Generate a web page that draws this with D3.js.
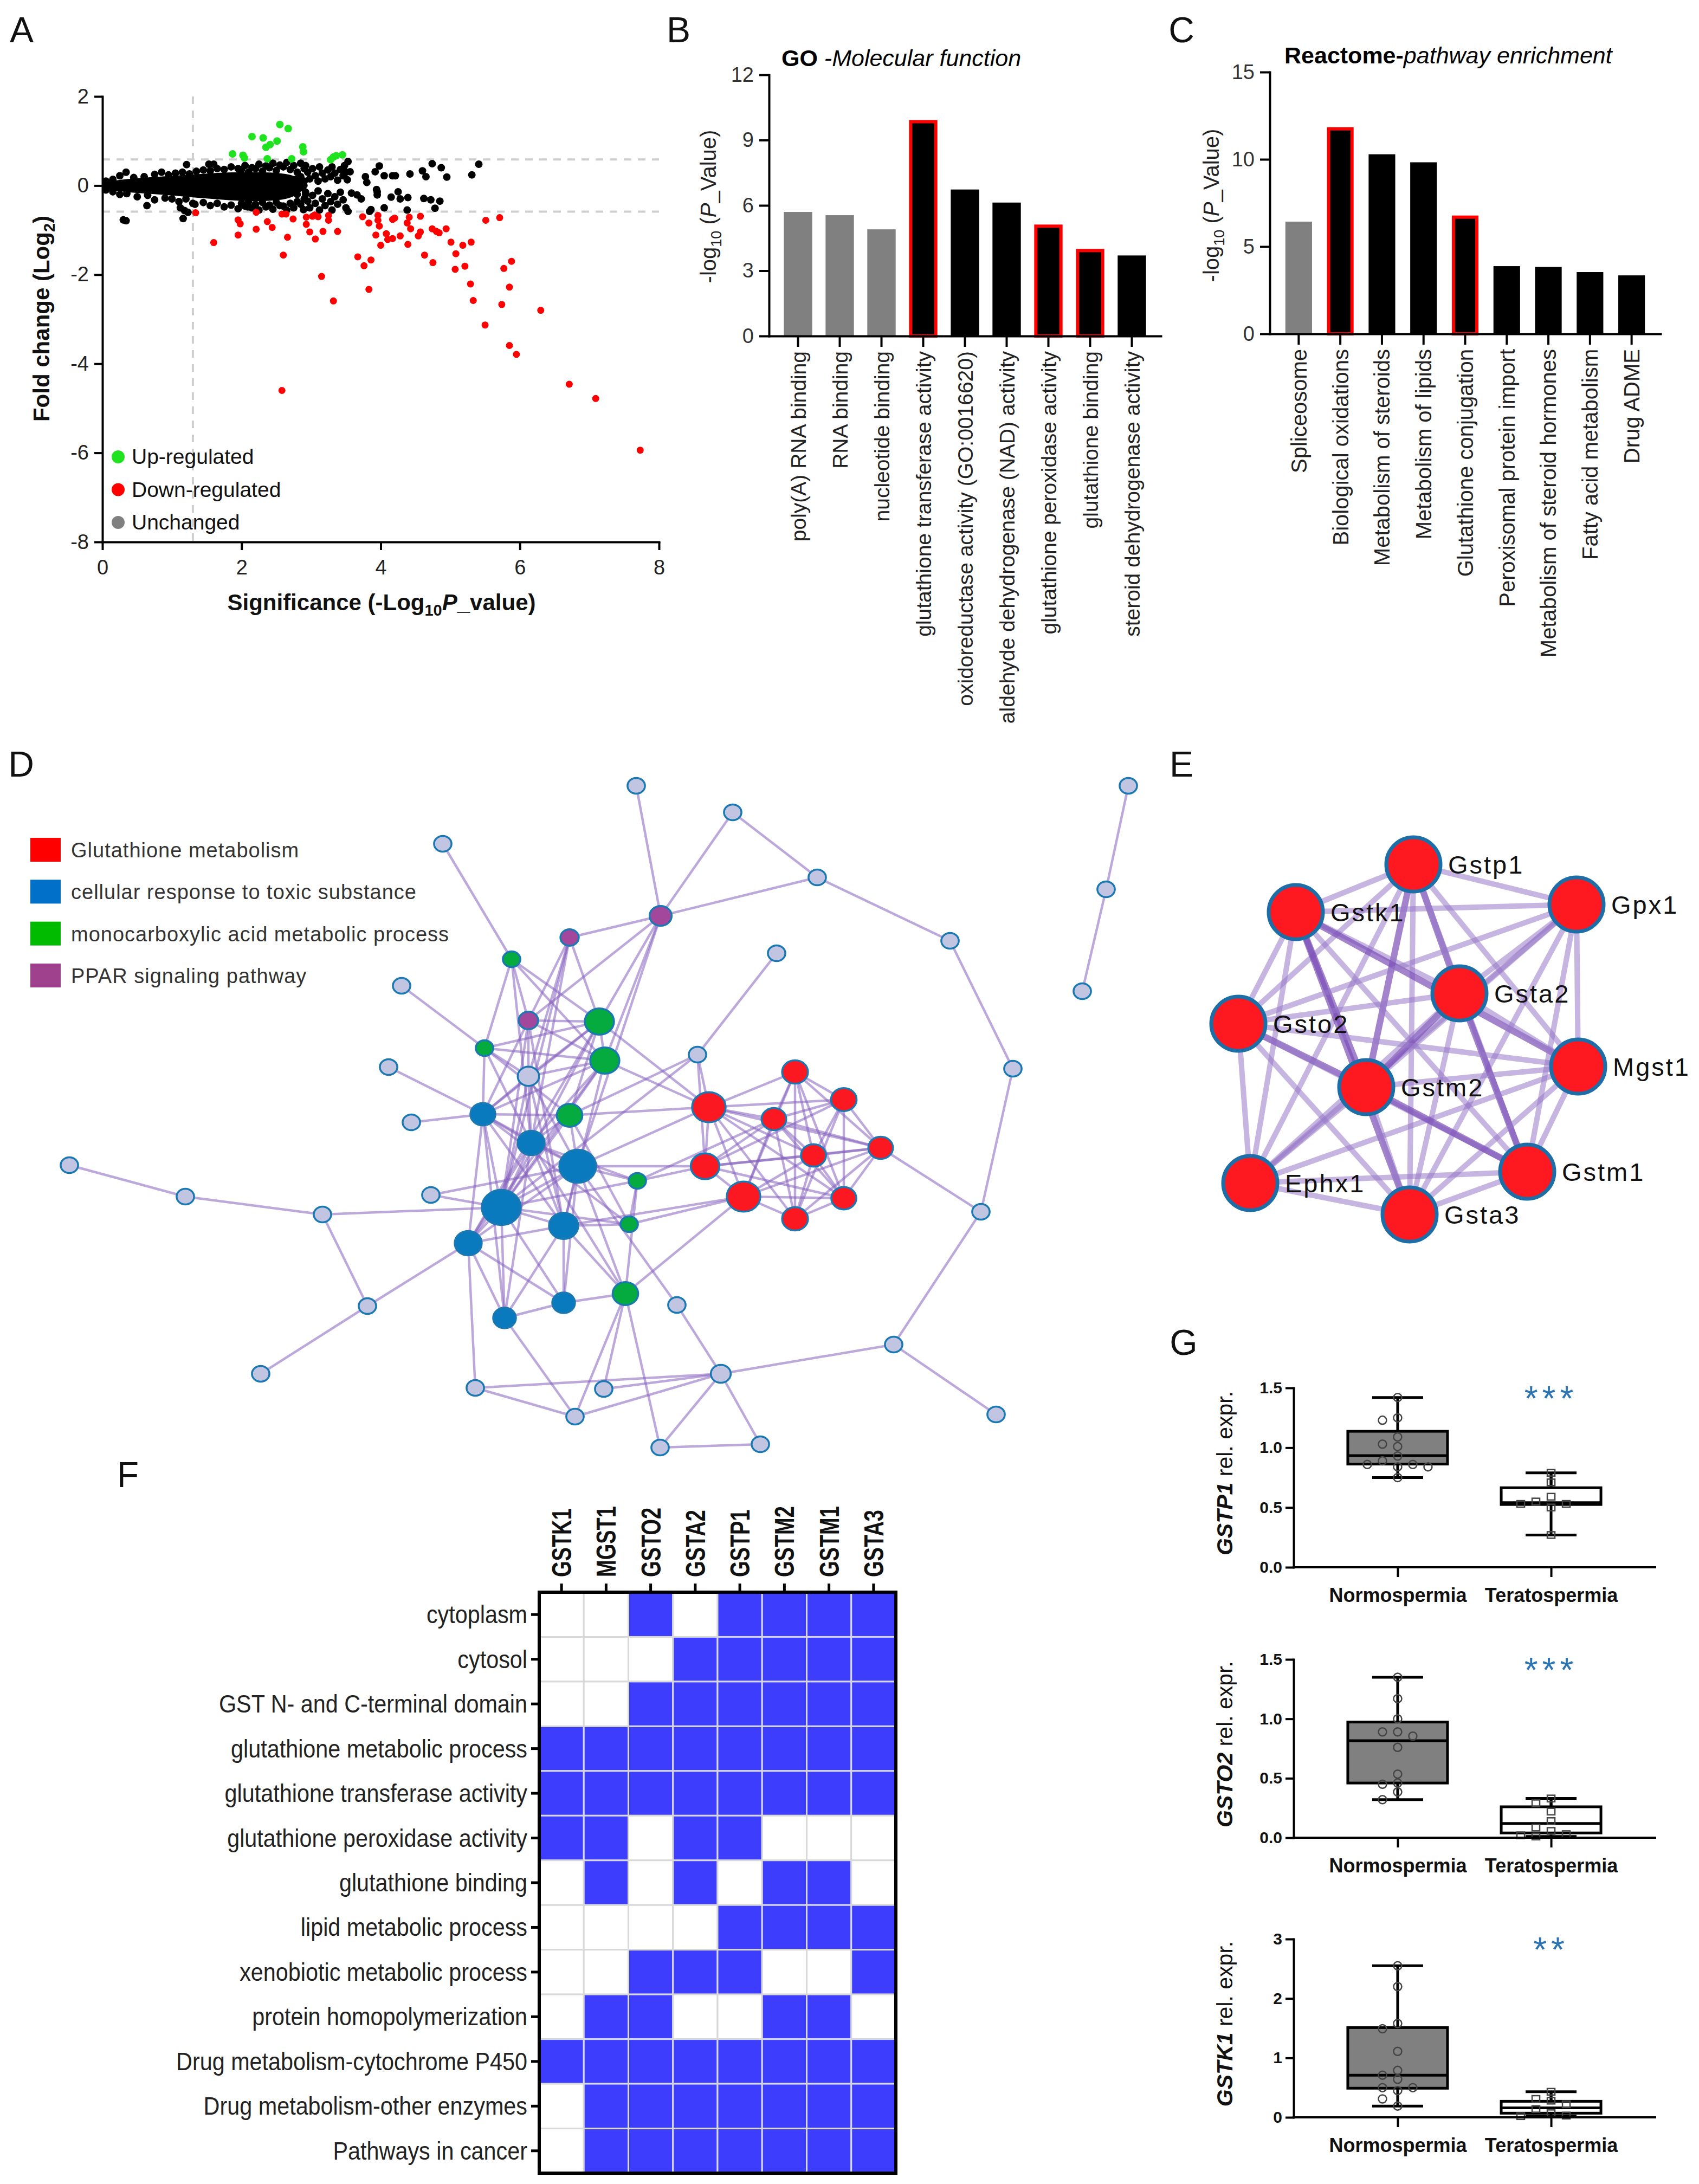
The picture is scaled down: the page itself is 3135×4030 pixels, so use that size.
<!DOCTYPE html>
<html>
<head>
<meta charset="utf-8">
<script src="https://cdn.jsdelivr.net/npm/d3@7"></script>
<style>
  body { margin: 0; background: #fff; }
  svg { display: block; }
  text { font-family: "Liberation Sans", Arial, sans-serif; }
</style>
</head>
<body>
<svg id="fig" width="3135" height="4030"></svg>
<script>
// ---------- A: volcano plot ----------
const coreX  = [0, 0.1, 0.3, 0.6, 0.9, 1.2, 1.5, 1.8, 2.1, 2.4, 2.7, 2.85, 2.95];
const coreHi = [0.07, 0.1, 0.14, 0.18, 0.21, 0.24, 0.27, 0.3, 0.3, 0.3, 0.26, 0.15, 0.02];
const coreLo = [-0.07, -0.1, -0.14, -0.18, -0.21, -0.25, -0.29, -0.33, -0.35, -0.35, -0.3, -0.15, -0.02];

const flatPts = [
  [0.05,0.1],[0.15,0.14],[0.25,0.22],[0.34,0.3],[0.45,0.18],[0.6,0.2],[0.75,0.25],[0.85,0.3],[0.95,0.24],
  [1.05,0.28],[1.15,0.3],[1.25,0.26],[1.35,0.32],[1.45,0.35],[1.55,0.33],[1.65,0.38],[1.75,0.36],[1.85,0.42],
  [1.95,0.38],[2.05,0.45],[2.15,0.4],[2.25,0.48],[2.35,0.44],[2.45,0.5],[2.55,0.46],[2.65,0.52],[2.75,0.45],[2.85,0.5],
  [0.05,-0.1],[0.15,-0.14],[0.25,-0.2],[0.35,-0.18],[0.5,-0.25],[0.65,-0.22],[0.75,-0.32],[0.9,-0.28],[1.0,-0.3],
  [1.1,-0.36],[1.2,-0.3],[1.3,-0.4],[1.45,-0.38],[1.55,-0.45],[1.65,-0.4],[1.75,-0.48],[1.85,-0.44],[1.95,-0.52],
  [2.05,-0.46],[2.15,-0.5],[2.25,-0.55],[2.35,-0.48],[2.45,-0.53],[2.55,-0.45],[2.65,-0.55],[2.75,-0.5],[2.85,-0.42],
  [2.0,0.36],[2.1,0.3],[2.2,0.38],[2.3,0.32],[2.4,0.4],[2.5,0.34],[2.6,0.42],[2.7,0.36],[2.8,0.3],[2.9,0.38],
  [2.0,-0.4],[2.1,-0.36],[2.2,-0.42],[2.3,-0.38],[2.4,-0.44],[2.5,-0.38],[2.6,-0.46],[2.7,-0.4],[2.8,-0.36],[2.9,-0.3],
  [2.85,0.2],[2.9,0.1],[2.88,-0.05],[2.92,-0.2],[2.78,0.14],[2.8,-0.2],
  [0.3,-0.77],[0.34,-0.79],[0.64,-0.45],[1.21,0.47],[1.16,-0.74],[1.12,-0.5],[1.18,-0.56],[1.23,-0.6],[1.33,-0.42],
  [1.53,0.48],[1.6,0.48],[2.09,-0.48],[2.89,-0.54],
  [2.92,0.45],[2.95,0.3],[2.98,0.15],[3.02,0.38],[3.06,0.22],[3.1,0.1],[3.12,0.42],[3.16,0.28],[3.2,0.15],
  [3.24,0.35],[3.28,0.2],[3.3,0.42],[3.34,0.28],[3.38,0.12],[3.42,0.36],[3.46,0.22],[3.5,0.3],[3.52,0.13],
  [3.53,0.54],[3.56,0.31],[3.48,0.45],
  [2.92,-0.15],[2.95,-0.35],[2.98,-0.5],[3.02,-0.22],[3.06,-0.4],[3.1,-0.12],[3.12,-0.55],[3.16,-0.3],[3.2,-0.45],
  [3.24,-0.18],[3.28,-0.36],[3.3,-0.55],[3.34,-0.25],[3.38,-0.42],[3.42,-0.15],[3.46,-0.32],[3.5,-0.5],[3.53,-0.58],
  [3.58,-0.17],[3.66,-0.21],[3.72,-0.3],
  [3.78,0.2],[3.8,0.07],[3.92,0.31],[3.98,0.44],[4.05,0.22],[4.17,0.22],[4.21,0.22],[4.42,0.26],[4.6,0.33],
  [4.65,0.2],[4.74,0.49],[4.87,0.4],[4.95,0.19],[5.31,0.24],[5.41,0.48],
  [3.95,-0.14],[3.95,-0.21],[3.94,-0.09],[4.15,-0.26],[4.25,-0.14],[4.28,-0.3],[4.39,-0.27],[4.62,-0.29],
  [4.72,-0.32],[4.85,-0.35],[4.78,-0.51],[4.38,-0.55],[4.05,-0.5],[3.86,-0.54],[3.84,-0.58]
];
const upPts = [
  [1.87,0.71],[2.02,0.68],[2.04,0.62],[2.15,1.1],[2.31,1.07],[2.35,0.86],[2.41,0.92],[2.51,1.0],[2.55,1.37],
  [2.67,1.28],[2.37,0.6],[2.72,0.6],[2.88,0.87],[2.89,0.76],[3.28,0.58],[3.32,0.64],[3.36,0.67],[3.45,0.69]
];
const downPts = [
  [1.34,-0.61],[1.6,-1.28],[1.95,-0.77],[1.98,-0.86],[1.95,-1.11],[2.21,-0.6],[2.21,-0.98],[2.37,-0.81],[2.44,-0.94],
  [2.6,-1.56],[2.58,-0.64],[2.64,-0.64],[2.74,-0.75],[2.66,-1.16],[2.58,-4.6],
  [2.93,-0.87],[2.93,-0.71],[3.02,-0.69],[2.98,-1.04],[3.06,-1.2],[3.17,-1.03],[3.25,-0.78],[3.25,-0.67],[3.38,-1.03],
  [3.15,-2.04],[3.32,-2.59],[3.67,-1.6],[3.76,-1.8],[3.86,-1.67],[3.83,-2.33],[3.74,-0.7],[3.83,-0.84],[3.96,-0.67],
  [3.96,-0.78],[3.98,-0.91],[3.93,-1.11],[4.0,-1.34],[4.08,-1.08],[4.1,-1.21],[4.17,-1.19],[4.17,-0.76],[4.2,-0.73],
  [4.28,-1.13],[4.39,-1.32],[4.38,-0.84],[4.41,-0.71],[4.43,-0.97],[4.54,-1.13],[4.57,-1.04],[4.57,-0.69],[4.63,-1.56],
  [4.75,-1.73],[4.74,-0.97],[4.8,-1.03],[4.84,-1.06],[4.94,-0.97],[5.01,-1.27],[5.08,-1.53],[5.18,-1.34],[5.3,-1.27],
  [5.07,-1.88],[5.21,-1.81],[5.29,-2.21],[5.33,-2.58],[5.5,-3.13],[5.51,-0.78],[5.71,-0.72],[5.88,-1.7],[5.77,-1.86],
  [5.85,-2.28],[5.74,-2.67],[5.85,-3.59],[5.95,-3.79],[6.3,-2.8],[6.71,-4.46],[7.09,-4.78],[7.73,-5.94],
  [3.05,-0.66],[3.1,-0.7]
];
const volcanoLegend = ["Up-regulated", "Down-regulated", "Unchanged"];

// ---------- B / C: enrichment bars ----------
const goTerms = ["poly(A) RNA binding", "RNA binding", "nucleotide binding", "glutathione transferase activity",
  "oxidoreductase activity (GO:0016620)", "aldehyde dehydrogenase (NAD) activity", "glutathione peroxidase activity",
  "glutathione binding", "steroid dehydrogenase activity"];
const goValues = [5.7, 5.55, 4.9, 9.92, 6.73, 6.13, 5.12, 4.0, 3.7];
const goKind = ["other", "other", "other", "gst", "main", "main", "gst", "gst", "main"];

const reactTerms = ["Spliceosome", "Biological oxidations", "Metabolism of steroids", "Metabolism of lipids",
  "Glutathione conjugation", "Peroxisomal protein import", "Metabolism of steroid hormones",
  "Fatty acid metabolism", "Drug ADME"];
const reactValues = [6.43, 11.84, 10.29, 9.83, 6.78, 3.88, 3.83, 3.54, 3.35];
const reactKind = ["other", "gst", "main", "main", "gst", "main", "main", "main", "main"];

// ---------- D: enrichment network (layout units) ----------
const netGroups = ["Glutathione metabolism", "cellular response to toxic substance",
  "monocarboxylic acid metabolic process", "PPAR signaling pathway"];
const netNodes = [
  ["a1",81.7,17.7,2,"none"],["a2",117.4,7.0,2,"none"],["a3",135.2,11.9,2,"none"],["a4",150.8,23.9,2,"none"],
  ["a5",175.3,35.6,2,"none"],["a6",186.9,59.2,2,"none"],["a7",181.0,85.6,2,"none"],["a8",164.9,110.1,2,"none"],
  ["a9",133.0,115.5,2.6,"none"],["a10",183.8,123.0,2,"none"],["a11",111.4,118.3,2,"none"],["a12",106.1,123.4,2,"none"],
  ["a13",121.8,129.1,2,"none"],["a14",140.3,128.5,2,"none"],["a15",124.9,102.8,2,"none"],["a16",208.2,7.0,2,"none"],
  ["a17",204.1,26.1,2,"none"],["a18",199.7,44.9,2,"none"],["a19",143.3,37.9,2,"none"],["a20",128.7,56.6,2,"none"],
  ["a21",12.8,77.0,2,"none"],["a22",34.2,82.8,2,"none"],["a23",59.5,86.1,2,"none"],["a24",67.8,103.0,2,"none"],
  ["a25",48.1,115.5,2,"none"],["a26",74.1,43.9,2,"none"],["a27",71.7,58.9,2,"none"],["a28",75.9,69.1,2,"none"],
  ["a29",79.5,82.5,2,"none"],["a30",87.7,118.1,2,"none"],["a31",97.5,60.6,3,"none"],
  ["g1",94.4,39.0,2,"mono"],["g2",89.4,55.4,2,"mono"],["g3",110.6,50.5,5.6,"mono"],["g4",111.6,57.7,5.6,"mono"],
  ["g5",105.1,67.8,4.3,"mono"],["g6",117.6,79.9,2,"mono"],["g7",116.1,87.9,2,"mono"],["g8",115.4,100.7,4.3,"mono"],
  ["p1",105.1,35.0,2.2,"ppar"],["p2",97.5,50.3,2.5,"ppar"],["p3",121.9,31.0,3.2,"ppar"],
  ["b1",89.1,67.6,4.1,"toxic"],["b2",98.0,72.9,4.8,"toxic"],["b3",106.6,77.2,8.9,"toxic"],["b4",92.5,84.8,10,"toxic"],
  ["b5",104.0,88.2,5.6,"toxic"],["b6",86.4,91.4,4.8,"toxic"],["b7",93.1,105.2,3.4,"toxic"],["b8",104.0,102.4,3.4,"toxic"],
  ["r1",146.7,59.8,4.4,"gsh"],["r2",130.8,66.3,7.4,"gsh"],["r3",155.7,64.9,4.3,"gsh"],["r4",142.8,68.5,4.0,"gsh"],
  ["r5",162.5,73.8,4.0,"gsh"],["r6",150.1,75.2,4.1,"gsh"],["r7",130.1,77.2,5.4,"gsh"],["r8",137.2,82.8,7.4,"gsh"],
  ["r9",155.7,83.1,4.1,"gsh"],["r10",146.7,86.9,4.4,"gsh"]
];
const netEdges = [
  ["a1","g1"],["a2","p3"],["a3","p3"],["a3","a4"],["a4","p3"],["a4","a5"],["a5","a6"],["a6","a7"],["a7","r5"],
  ["a7","a8"],["a8","a9"],["a8","a10"],["a16","a17"],["a17","a18"],["a19","a20"],["a20","r2"],["a20","r7"],
  ["a20","g5"],["a20","b4"],["a21","a22"],["a22","a23"],["a23","b4"],["a23","a24"],["a24","a25"],["a24","b6"],
  ["a26","g2"],["a27","b1"],["a28","b1"],["a29","b4"],["a29","b3"],["a30","a9"],["a30","a12"],["a30","b6"],
  ["a9","a11"],["a9","a12"],["a9","a13"],["a9","a14"],["a9","a15"],["a13","a14"],["a11","g8"],["a12","g8"],
  ["a13","g8"],["a12","b7"],["a15","b3"],["p3","p1"],["p3","p2"],["p3","g3"],["p3","g4"],["p3","b3"],
  ["g1","g2"],["g1","p2"],["g1","g3"],["g1","g4"],["g1","b2"],
  ["p1","p2"],["p1","a31"],["p1","g3"],["p1","b4"],["p1","b2"],
  ["p2","g3"],["p2","g4"],["p2","a31"],["p2","b1"],["p2","b4"],["p2","b5"],
  ["g2","g3"],["g2","g4"],["g2","a31"],["g2","b2"],["g2","g5"],["g2","b1"],
  ["a31","g3"],["a31","g4"],["a31","b1"],["a31","b2"],["a31","b3"],["a31","b5"],["a31","b4"],
  ["g3","g4"],["g3","b4"],["g3","g5"],["g3","b1"],["g3","r2"],["g3","b6"],
  ["g4","r2"],["g4","b4"],["g4","b5"],["g4","b1"],["g4","b2"],["g4","b6"],
  ["g5","b1"],["g5","b3"],["g5","b4"],["g5","b2"],["g5","g7"],["g5","r2"],
  ["b1","b2"],["b1","b4"],["b1","b6"],["b1","b3"],["b1","b5"],["b1","b7"],
  ["b2","b3"],["b2","b4"],["b2","b5"],["b2","b6"],["b2","g6"],["b2","g8"],["b2","b7"],
  ["b3","r2"],["b3","r7"],["b3","b4"],["b3","b5"],["b3","b6"],["b3","g8"],["b3","g6"],["b3","b8"],
  ["b4","b5"],["b4","b6"],["b4","b7"],["b4","b8"],["b4","g6"],["b4","g7"],
  ["g6","r7"],["g6","g7"],["g6","g8"],["g6","r4"],["g7","r8"],["g7","b5"],["g7","b1"],
  ["b5","b6"],["b5","b7"],["b5","b8"],["b5","g8"],["b5","r8"],["b6","b7"],["b6","b8"],["b7","b8"],
  ["g8","r8"],["g8","b8"],
  ["r1","r2"],["r1","r3"],["r1","r4"],["r1","r5"],["r1","r6"],["r1","r8"],["r1","r9"],["r1","r10"],
  ["r2","r3"],["r2","r4"],["r2","r5"],["r2","r6"],["r2","r7"],["r2","r8"],["r2","r9"],["r2","r10"],
  ["r3","r4"],["r3","r5"],["r3","r6"],["r3","r9"],["r3","r10"],["r3","r7"],
  ["r4","r6"],["r4","r7"],["r4","r8"],["r4","r9"],["r4","r10"],["r4","r5"],
  ["r5","r6"],["r5","r8"],["r5","r9"],["r5","r10"],["r6","r7"],["r6","r8"],["r6","r9"],["r6","r10"],
  ["r7","r8"],["r7","r9"],["r7","r5"],["r8","r9"],["r8","r10"],["r9","r10"]
];

// ---------- E: GST interaction network (layout units) ----------
const gstNodes = [
  ["Gstp1",45.8,21.5],["Gstk1",24.1,30.3],["Gpx1",75.9,28.9],["Gsta2",54.3,45.3],["Gsto2",13.5,50.9],
  ["Mgst1",76.2,58.8],["Gstm2",37.1,62.6],["Ephx1",15.7,80.3],["Gstm1",66.8,78.2],["Gsta3",45.1,86.1]
];
const gstStrong = [["Gstp1","Gsta2"],["Gstk1","Gstm2"],["Gsto2","Gstm2"],["Gstm2","Gstm1"],["Gsta2","Gstm1"],
  ["Gsta2","Gstm2"],["Gstk1","Gsta3"],["Gstp1","Gstm2"],["Gstk1","Mgst1"]];

// ---------- F: annotation matrix ----------
const fGenes = ["GSTK1", "MGST1", "GSTO2", "GSTA2", "GSTP1", "GSTM2", "GSTM1", "GSTA3"];
const fTerms = ["cytoplasm", "cytosol", "GST N- and C-terminal domain", "glutathione metabolic process",
  "glutathione transferase activity", "glutathione peroxidase activity", "glutathione binding",
  "lipid metabolic process", "xenobiotic metabolic process", "protein homopolymerization",
  "Drug metabolism-cytochrome P450", "Drug metabolism-other enzymes", "Pathways in cancer"];
const fMatrix = [
  [0,0,1,0,1,1,1,1],
  [0,0,0,1,1,1,1,1],
  [0,0,1,1,1,1,1,1],
  [1,1,1,1,1,1,1,1],
  [1,1,1,1,1,1,1,1],
  [1,1,0,1,1,0,0,0],
  [0,1,0,1,0,1,1,0],
  [0,0,0,0,1,1,1,1],
  [0,0,1,1,1,0,0,1],
  [0,1,1,0,0,1,1,0],
  [1,1,1,1,1,1,1,1],
  [0,1,1,1,1,1,1,1],
  [0,1,1,1,1,1,1,1]
];

// ---------- G: qPCR box plots ----------
const gGroups = ["Normospermia", "Teratospermia"];
const gstp1Normo = [1.42, 1.25, 1.23, 1.09, 1.03, 1.01, 0.93, 0.89, 0.86, 0.86, 0.84, 0.84, 0.75];
const gstp1Terato = [0.79, 0.71, 0.59, 0.55, 0.53, 0.53, 0.5, 0.27];
const gsto2Normo = [1.35, 1.17, 1.0, 0.89, 0.89, 0.855, 0.76, 0.535, 0.46, 0.45, 0.385, 0.32];
const gsto2Terato = [0.33, 0.29, 0.22, 0.14, 0.085, 0.057, 0.03, 0.02, 0.01];
const gstk1Normo = [2.55, 2.2, 1.58, 1.49, 1.11, 0.79, 0.71, 0.64, 0.5, 0.5, 0.45, 0.31, 0.19];
const gstk1Terato = [0.43, 0.31, 0.28, 0.22, 0.14, 0.07, 0.03, 0.02];
// [min, q1, median, q3, max]
const gstp1Box = [[0.75, 0.863, 0.934, 1.137, 1.42], [0.27, 0.525, 0.54, 0.665, 0.79]];
const gsto2Box = [[0.32, 0.46, 0.816, 0.973, 1.35], [0.01, 0.04, 0.12, 0.26, 0.33]];
const gstk1Box = [[0.19, 0.49, 0.71, 1.51, 2.55], [0.02, 0.07, 0.16, 0.27, 0.43]];
const gGenes = ["GSTP1", "GSTO2", "GSTK1"];
const gStars = ["***", "***", "**"];

// ======================================================================
const svg = d3.select("#fig");
svg.append("rect").attr("width", 3135).attr("height", 4030).attr("fill", "#fff");
const FONT = "Liberation Sans, Arial, sans-serif";

function styleAxis(g, fs, w, color) {
  g.attr("font-family", FONT);
  g.select(".domain").attr("stroke", "#000").attr("stroke-width", w).attr("stroke-linecap", "square");
  g.selectAll(".tick line").attr("stroke", "#000").attr("stroke-width", w);
  g.selectAll(".tick text").attr("font-size", fs).attr("fill", color || "#222");
}

// panel letters
[["A", 40, 55], ["B", 1252, 55], ["C", 2180, 55], ["D", 39, 1410], ["E", 2180, 1410], ["F", 236, 2721], ["G", 2184, 2477]]
  .forEach(([t, x, y]) => {
    svg.append("text").attr("x", x).attr("y", y + 23).attr("text-anchor", "middle")
      .attr("font-family", "Open Sans, sans-serif").attr("font-size", 66).attr("fill", "#111").text(t);
  });

// ---------------- Panel A ----------------
(function () {
  const g = svg.append("g");
  const x = d3.scaleLinear().domain([0, 8]).range([189, 1216]);
  const y = d3.scaleLinear().domain([-8, 2]).range([1000, 178]);

  g.append("line").attr("x1", x(1.3)).attr("x2", x(1.3)).attr("y1", y(2)).attr("y2", y(-8))
    .attr("stroke", "#cfcfcf").attr("stroke-width", 4).attr("stroke-dasharray", "14,12");
  [0.585, -0.585].forEach(v => {
    g.append("line").attr("x1", x(0)).attr("x2", x(8)).attr("y1", y(v)).attr("y2", y(v))
      .attr("stroke", "#cfcfcf").attr("stroke-width", 4).attr("stroke-dasharray", "14,12");
  });

  const area = d3.area().x(d => x(d[0])).y0(d => y(d[2])).y1(d => y(d[1])).curve(d3.curveBasis);
  g.append("path").datum(d3.zip(coreX, coreHi, coreLo)).attr("d", area).attr("fill", "#000");

  g.selectAll(".flat").data(flatPts).join("circle")
    .attr("cx", d => x(d[0])).attr("cy", d => y(d[1])).attr("r", 7).attr("fill", "#000");
  g.selectAll(".down").data(downPts).join("circle")
    .attr("cx", d => x(d[0])).attr("cy", d => y(d[1])).attr("r", 6.5).attr("fill", "#ff0000");
  g.selectAll(".up").data(upPts).join("circle")
    .attr("cx", d => x(d[0])).attr("cy", d => y(d[1])).attr("r", 7).attr("fill", "#1ee31e");

  g.append("g").attr("transform", `translate(${x(0)},0)`)
    .call(d3.axisLeft(y).tickValues([-8, -6, -4, -2, 0, 2]).tickFormat(d => String(d))
      .tickSize(15).tickSizeOuter(0).tickPadding(10))
    .call(a => styleAxis(a, 38, 4));
  g.append("g").attr("transform", `translate(0,${y(-8)})`)
    .call(d3.axisBottom(x).tickValues([0, 2, 4, 6, 8]).tickFormat(d => String(d))
      .tickSize(15).tickSizeOuter(0).tickPadding(18))
    .call(a => styleAxis(a, 38, 4));

  const xt = g.append("text").attr("x", 704).attr("y", 1126).attr("text-anchor", "middle")
    .attr("font-size", 42).attr("font-weight", "bold").attr("fill", "#111");
  xt.append("tspan").text("Significance (-Log");
  xt.append("tspan").attr("font-size", 29).attr("dy", 10).text("10");
  xt.append("tspan").attr("font-style", "italic").attr("dy", -10).text("P");
  xt.append("tspan").text("_value)");

  const yt = g.append("text").attr("transform", "translate(91,588) rotate(-90)").attr("text-anchor", "middle")
    .attr("font-size", 42).attr("font-weight", "bold").attr("fill", "#111");
  yt.append("tspan").text("Fold change (Log");
  yt.append("tspan").attr("font-size", 29).attr("dy", 10).text("2");
  yt.append("tspan").attr("dy", -10).text(")");

  const legColors = ["#1ee31e", "#ff0000", "#808080"];
  const ly = d3.scalePoint().domain(volcanoLegend).range([843, 964]);
  volcanoLegend.forEach((t, i) => {
    g.append("circle").attr("cx", 218).attr("cy", ly(t)).attr("r", 12).attr("fill", legColors[i]);
    g.append("text").attr("x", 243).attr("y", ly(t) + 13).attr("font-family", "Lato, sans-serif")
      .attr("font-size", 39).attr("fill", "#111").text(t);
  });
})();

// ---------------- Panels B & C ----------------
function barPanel(cfg) {
  const g = svg.append("g");
  const x = d3.scaleBand().domain(cfg.terms).range([cfg.x0, cfg.x1])
    .paddingInner(cfg.padIn).paddingOuter(cfg.padOut);
  const y = d3.scaleLinear().domain([0, cfg.max]).range([cfg.y0, cfg.yTop]);
  const fill = k => (k === "other" ? "#808080" : "#000");
  const rows = cfg.terms.map((t, i) => ({ t, v: cfg.values[i], k: cfg.kind[i] }));

  g.selectAll(".bar").data(rows).join("rect")
    .attr("x", d => x(d.t) + (d.k === "gst" ? 3 : 0))
    .attr("y", d => y(d.v) + (d.k === "gst" ? 3 : 0))
    .attr("width", d => x.bandwidth() - (d.k === "gst" ? 6 : 0))
    .attr("height", d => y(0) - y(d.v) - (d.k === "gst" ? 3 : 0))
    .attr("fill", d => fill(d.k))
    .attr("stroke", d => (d.k === "gst" ? "#ff0000" : "none"))
    .attr("stroke-width", 6);

  g.append("g").attr("transform", `translate(${cfg.x0},0)`)
    .call(d3.axisLeft(y).tickValues(cfg.ticks).tickSize(18).tickSizeOuter(0).tickPadding(10))
    .call(a => styleAxis(a, 38, 4, "#333"));
  const xa = g.append("g").attr("transform", `translate(0,${cfg.y0})`)
    .call(d3.axisBottom(x).tickSize(20).tickSizeOuter(0))
    .call(a => styleAxis(a, cfg.labelSize, 4, "#222"));
  xa.selectAll(".tick text").attr("transform", "rotate(-90)").attr("text-anchor", "end")
    .attr("x", -28).attr("y", 0).attr("dy", "0.36em");

  const yl = g.append("text").attr("transform", `translate(${cfg.ylx},${cfg.yly}) rotate(-90)`)
    .attr("text-anchor", "middle").attr("font-size", 40).attr("fill", "#222");
  yl.append("tspan").text("-log");
  yl.append("tspan").attr("font-size", 27).attr("dy", 10).text("10");
  yl.append("tspan").attr("dy", -10).text(" (");
  yl.append("tspan").attr("font-style", "italic").text("P");
  yl.append("tspan").text("_Value)");

  const tt = g.append("text").attr("x", cfg.tx).attr("y", cfg.ty).attr("font-size", 43).attr("fill", "#000");
  tt.append("tspan").attr("font-weight", "bold").text(cfg.titleBold);
  tt.append("tspan").attr("font-style", "italic").text(cfg.titleItalic);
}

barPanel({ terms: goTerms, values: goValues, kind: goKind, x0: 1419, x1: 2142, padIn: 0.32, padOut: 0.355,
  y0: 620, yTop: 138, max: 12, ticks: [0, 3, 6, 9, 12], ylx: 1321, yly: 381, labelSize: 39,
  tx: 1442, ty: 122, titleBold: "GO", titleItalic: " -Molecular function" });
barPanel({ terms: reactTerms, values: reactValues, kind: reactKind, x0: 2343, x1: 3064, padIn: 0.36, padOut: 0.375,
  y0: 616, yTop: 133, max: 15, ticks: [0, 5, 10, 15], ylx: 2249, yly: 379, labelSize: 40,
  tx: 2370, ty: 117, titleBold: "Reactome-", titleItalic: "pathway enrichment" });

// ---------------- Panel D ----------------
(function () {
  const g = svg.append("g");
  const x = d3.scaleLinear().domain([0, 215]).range([0, 2150]);
  const y = d3.scaleLinear().domain([0, 133]).range([1380, 2710]);
  const r = d3.scaleSqrt().domain([0, 10]).range([0, 36]);
  const color = { none: "#c2c5e2", gsh: "#fb1820", toxic: "#0a7abf", mono: "#05ab3e", ppar: "#a2479c" };
  const byId = new Map(netNodes.map(n => [n[0], n]));

  g.selectAll(".edge").data(netEdges).join("line")
    .attr("x1", d => x(byId.get(d[0])[1])).attr("y1", d => y(byId.get(d[0])[2]))
    .attr("x2", d => x(byId.get(d[1])[1])).attr("y2", d => y(byId.get(d[1])[2]))
    .attr("stroke", "#8560bd").attr("stroke-opacity", 0.55).attr("stroke-width", 4.5);

  g.selectAll(".node").data(netNodes).join("ellipse")
    .attr("cx", d => x(d[1])).attr("cy", d => y(d[2]))
    .attr("rx", d => r(d[3])).attr("ry", d => r(d[3]) * 0.9)
    .attr("fill", d => color[d[4]]).attr("stroke", "#1a78b2").attr("stroke-width", 3.5);

  const legKeys = ["gsh", "toxic", "mono", "ppar"];
  const ly = d3.scalePoint().domain(netGroups).range([1568, 1800]);
  netGroups.forEach((t, i) => {
    g.append("rect").attr("x", 56).attr("y", ly(t) - 22).attr("width", 56).attr("height", 44)
      .attr("fill", { gsh: "#ff0000", toxic: "#0070c8", mono: "#00bb00", ppar: "#a0418e" }[legKeys[i]]);
    g.append("text").attr("x", 131).attr("y", ly(t) + 14).attr("font-family", "Open Sans, sans-serif")
      .attr("font-size", 38).attr("fill", "#333").attr("letter-spacing", 1).text(t);
  });
})();

// ---------------- Panel E ----------------
(function () {
  const g = svg.append("g");
  const x = d3.scaleLinear().domain([0, 100]).range([2150, 3150]);
  const y = d3.scaleLinear().domain([0, 100]).range([1380, 2380]);
  const pairs = [];
  gstNodes.forEach((a, i) => gstNodes.forEach((b, j) => { if (j > i) pairs.push([a, b]); }));
  const strong = new Set(gstStrong.map(p => p.join("|")));
  const isStrong = p => strong.has(p[0][0] + "|" + p[1][0]) || strong.has(p[1][0] + "|" + p[0][0]);

  g.selectAll(".edge").data(pairs).join("line")
    .attr("x1", d => x(d[0][1])).attr("y1", d => y(d[0][2]))
    .attr("x2", d => x(d[1][1])).attr("y2", d => y(d[1][2]))
    .attr("stroke", d => (isStrong(d) ? "#7b4fb6" : "#9778c8"))
    .attr("stroke-opacity", d => (isStrong(d) ? 0.7 : 0.55))
    .attr("stroke-width", d => (isStrong(d) ? 12 : 10));

  g.selectAll(".node").data(gstNodes).join("circle")
    .attr("cx", d => x(d[1])).attr("cy", d => y(d[2])).attr("r", 50)
    .attr("fill", "#fe1820").attr("stroke", "#1d6ea6").attr("stroke-width", 7);

  g.selectAll(".lab").data(gstNodes).join("text")
    .attr("x", d => x(d[1]) + 64).attr("y", d => y(d[2]) + 17)
    .attr("font-size", 47).attr("letter-spacing", 3).attr("fill", "#111").text(d => d[0]);
})();

// ---------------- Panel F ----------------
(function () {
  const g = svg.append("g");
  const x = d3.scaleBand().domain(fGenes).range([995, 1653]);
  const y = d3.scaleBand().domain(fTerms).range([2938, 4010]);
  const cells = [];
  fTerms.forEach((t, i) => fGenes.forEach((gn, j) => cells.push({ t, gn, v: fMatrix[i][j] })));

  g.selectAll(".cell").data(cells).join("rect")
    .attr("x", d => x(d.gn)).attr("y", d => y(d.t))
    .attr("width", x.bandwidth()).attr("height", y.bandwidth())
    .attr("fill", d => (d.v ? "#3d3dfd" : "#fff"))
    .attr("stroke", "#d8d8d8").attr("stroke-width", 3);
  g.append("rect").attr("x", 995).attr("y", 2938).attr("width", 658).attr("height", 1072)
    .attr("fill", "none").attr("stroke", "#000").attr("stroke-width", 6);

  fTerms.forEach(t => {
    const cy = y(t) + y.bandwidth() / 2;
    g.append("line").attr("x1", 980).attr("x2", 995).attr("y1", cy).attr("y2", cy)
      .attr("stroke", "#000").attr("stroke-width", 5);
    g.append("text").attr("transform", `translate(973,${cy + 16}) scale(0.88,1)`).attr("text-anchor", "end")
      .attr("font-size", 47).attr("fill", "#222").text(t);
  });
  fGenes.forEach(gn => {
    const cx = x(gn) + x.bandwidth() / 2;
    g.append("line").attr("x1", cx).attr("x2", cx).attr("y1", 2922).attr("y2", 2938)
      .attr("stroke", "#000").attr("stroke-width", 5);
    g.append("text").attr("transform", `translate(${cx + 18},2910) rotate(-90) scale(0.76,1)`)
      .attr("font-size", 50).attr("font-weight", "bold").attr("fill", "#111").text(gn);
  });
})();

// ---------------- Panel G ----------------
(function () {
  const sets = [
    { vals: [gstp1Normo, gstp1Terato], box: gstp1Box, max: 1.5, ticks: [0, 0.5, 1, 1.5], fmt: d3.format(".1f"), y0: 2892, yTop: 2561 },
    { vals: [gsto2Normo, gsto2Terato], box: gsto2Box, max: 1.5, ticks: [0, 0.5, 1, 1.5], fmt: d3.format(".1f"), y0: 3391, yTop: 3062 },
    { vals: [gstk1Normo, gstk1Terato], box: gstk1Box, max: 3, ticks: [0, 1, 2, 3], fmt: d3.format("d"), y0: 3907, yTop: 3578 }
  ];
  const x = d3.scalePoint().domain(gGroups).range([2387, 3054]).padding(0.678);

  sets.forEach((s, k) => {
    const g = svg.append("g");
    const y = d3.scaleLinear().domain([0, s.max]).range([s.y0, s.yTop]);

    gGroups.forEach((grp, gi) => {
      const cx = x(grp);
      const [mn, q1, md, q3, mx] = s.box[gi];
      g.append("line").attr("x1", cx).attr("x2", cx).attr("y1", y(mx)).attr("y2", y(mn))
        .attr("stroke", "#000").attr("stroke-width", 5);
      [mn, mx].forEach(v => g.append("line").attr("x1", cx - 47).attr("x2", cx + 47)
        .attr("y1", y(v)).attr("y2", y(v)).attr("stroke", "#000").attr("stroke-width", 5));
      g.append("rect").attr("x", cx - 92).attr("y", y(q3)).attr("width", 184).attr("height", y(q1) - y(q3))
        .attr("fill", gi === 0 ? "#808080" : "#fff").attr("stroke", "#000").attr("stroke-width", 5);
      g.append("line").attr("x1", cx - 92).attr("x2", cx + 92).attr("y1", y(md)).attr("y2", y(md))
        .attr("stroke", "#000").attr("stroke-width", 5);
      if (gi === 1) {
        g.append("line").attr("x1", cx).attr("x2", cx).attr("y1", y(q3)).attr("y2", y(mx))
          .attr("stroke", "#000").attr("stroke-width", 5);
      }

      // simple dodge so overlapping values sit side by side
      const placed = [];
      const slots = [0, -1, 1, -2, 2, -3, 3];
      s.vals[gi].forEach(v => {
        const py = y(v);
        const slot = slots.find(sl => !placed.some(p => p.sl === sl && Math.abs(p.py - py) < 16));
        placed.push({ sl: slot, py });
      });
      placed.forEach(p => {
        if (gi === 0) {
          g.append("circle").attr("cx", cx + p.sl * 28).attr("cy", p.py).attr("r", 7.5)
            .attr("fill", "none").attr("stroke", "#444").attr("stroke-width", 2.5);
        } else {
          g.append("rect").attr("x", cx + p.sl * 28 - 7).attr("y", p.py - 6).attr("width", 14).attr("height", 12)
            .attr("fill", "none").attr("stroke", "#444").attr("stroke-width", 2.5);
        }
      });
    });

    g.append("g").attr("transform", `translate(2387,0)`)
      .call(d3.axisLeft(y).tickValues(s.ticks).tickFormat(s.fmt).tickSize(15).tickSizeOuter(0).tickPadding(6))
      .call(a => styleAxis(a, 30, 4, "#111"))
      .call(a => a.selectAll(".tick text").attr("font-weight", "bold"));
    const xa = g.append("g").attr("transform", `translate(0,${s.y0})`)
      .call(d3.axisBottom(x).tickSize(18).tickSizeOuter(0).tickPadding(20))
      .call(a => styleAxis(a, 36, 4, "#111"))
      .call(a => a.selectAll(".tick text").attr("font-weight", "bold"));
    xa.select(".domain").attr("d", `M2387,0H3054`);

    const yl = g.append("text").attr("transform", `translate(2274,${(s.y0 + s.yTop) / 2 - 8}) rotate(-90)`)
      .attr("text-anchor", "middle").attr("font-family", "Lato, sans-serif").attr("font-size", 41).attr("fill", "#111");
    yl.append("tspan").attr("font-weight", "bold").attr("font-style", "italic").text(gGenes[k]);
    yl.append("tspan").text(" rel. expr.");

    g.append("text").attr("x", x("Teratospermia")).attr("y", s.yTop + 42).attr("text-anchor", "middle")
      .attr("font-size", 64).attr("letter-spacing", 8).attr("fill", "#2c74b3").text(gStars[k]);
  });
})();
</script>
</body>
</html>
